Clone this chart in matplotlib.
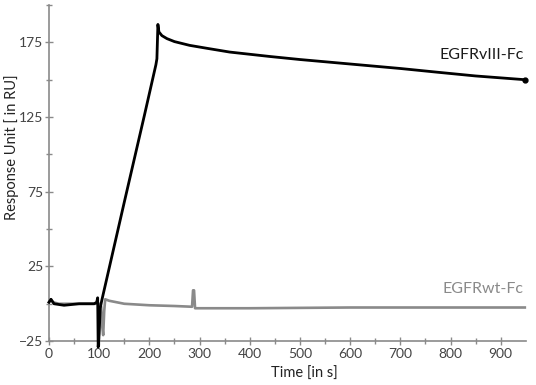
import numpy as np
import matplotlib
matplotlib.use("Agg")
import matplotlib.pyplot as plt

plt.rcParams['font.family'] = ['Lato', 'DejaVu Sans']

# EGFRvIII-Fc sensorgram
t_viii = [0, 4, 10, 30, 60, 90, 95, 97, 98, 100, 102, 105, 150, 190, 213, 215, 217,
          219, 225, 235, 250, 280, 315, 360, 441, 500, 600, 700, 774, 850, 948]
ru_viii = [1, 3, 0, -1, 0, 0, 1, 4, -29, -20, -3, 2, 68, 126, 160, 164, 187,
           182, 179.5, 177.5, 175.5, 173, 171, 168.5, 165.5, 163.5, 160.5, 157.5, 155, 152.5, 150]

# EGFRwt-Fc sensorgram
t_wt = [0, 3, 8, 20, 50, 95, 100, 104, 106, 108, 110, 112, 120, 150, 200, 250,
        285, 287, 289, 291, 295, 400, 600, 800, 948]
ru_wt = [1, 3, 1, 0, 0, 0, 0, -2, -15, -21, -5, 3, 2, 0, -1, -1.5,
         -2, 9, 9, -3, -3, -3, -2.5, -2.5, -2.5]

yticks = [-25, 25, 75, 125, 175]
xticks = [0, 100, 200, 300, 400, 500, 600, 700, 800, 900]

fig = plt.figure(figsize=(5.36, 3.85), dpi=100)
ax = fig.add_axes([0.0914, 0.114, 0.8896, 0.873])

ax.plot(t_wt, ru_wt, color='#8a8a8a', lw=1.9, clip_on=False, zorder=2)
ax.plot(t_viii, ru_viii, color='black', lw=2.0, clip_on=False, zorder=3)
ax.plot(t_viii[-1], ru_viii[-1], 'o', color='black', ms=3.5, clip_on=False)

ax.text(946, 162, 'EGFRvIII-Fc', ha='right', va='bottom', fontsize=11.5, color='#1a1a1a')
ax.text(946, 5, 'EGFRwt-Fc', ha='right', va='bottom', fontsize=11.5, color='#8a8a8a')

ax.set_xlim(0, 950)
ax.set_ylim(-25, 200)
ax.set_xticks(xticks)
ax.set_yticks(yticks)
ax.set_xticks(np.arange(50, 950, 100), minor=True)
ax.set_yticks([0, 50, 100, 150, 200], minor=True)

for s in ['top', 'right']:
    ax.spines[s].set_visible(False)
for s in ['left', 'bottom']:
    ax.spines[s].set_color('#8a8a8a')
    ax.spines[s].set_linewidth(1.2)

ax.tick_params(which='both', direction='inout', color='#8a8a8a', width=1)
ax.tick_params(which='major', length=6, labelsize=10, labelcolor='#444444')
ax.tick_params(which='minor', length=4)
ax.tick_params(axis='x', pad=2)
ax.tick_params(axis='y', pad=1)

ax.set_xlabel('Time [in s]', fontsize=10.5, color='#222222')
ax.set_ylabel('Response Unit [ in RU]', fontsize=10.5, color='#222222')
ax.xaxis.set_label_coords(0.535, -0.075)
ax.yaxis.set_label_coords(-0.062, 0.577)

fig.savefig('out.png', dpi=100)
